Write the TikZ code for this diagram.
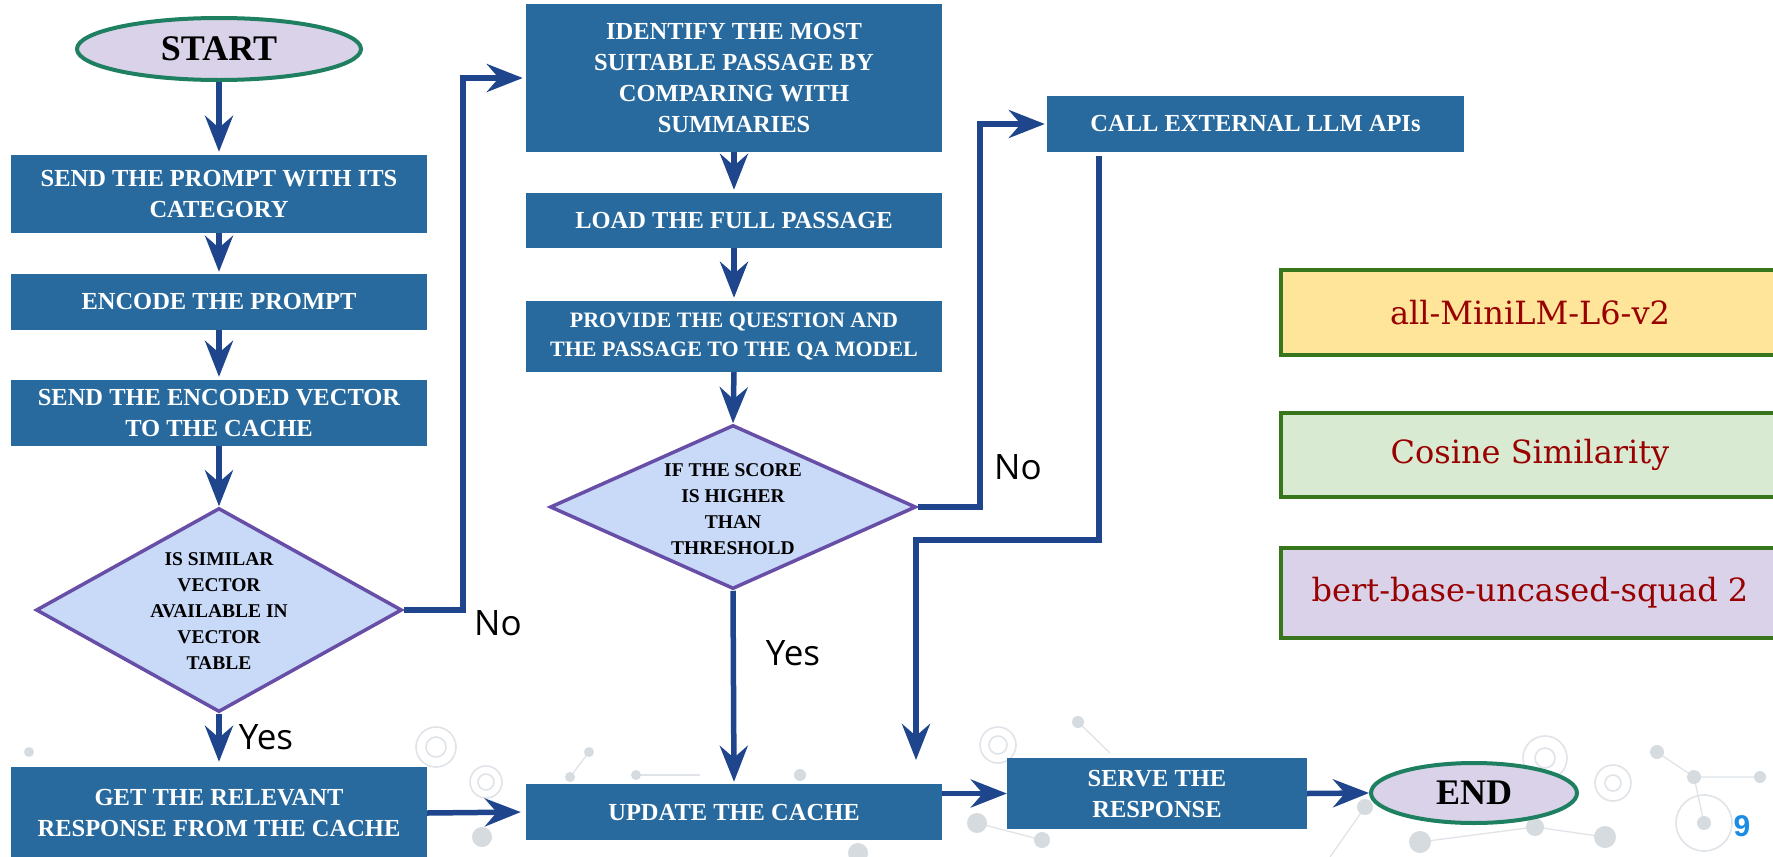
\documentclass[tikz,border=0pt]{standalone}
\usepackage{fontspec}
\setmainfont{Liberation Serif}
\newfontfamily\lblfont{Open Sans}
\newfontfamily\legfont{DejaVu Serif}
\newfontfamily\numfont{Liberation Sans}
\usetikzlibrary{arrows.meta,shapes.geometric,calc}
\definecolor{boxblue}{RGB}{40,106,158}
\definecolor{arrowc}{RGB}{31,70,140}
\definecolor{diafill}{RGB}{201,218,248}
\definecolor{diaedge}{RGB}{103,78,167}
\definecolor{ellfill}{RGB}{217,210,233}
\definecolor{elledge}{RGB}{30,128,96}
\definecolor{legedge}{RGB}{56,118,29}
\definecolor{legtext}{RGB}{153,0,0}
\definecolor{legy}{RGB}{255,229,153}
\definecolor{legg}{RGB}{217,234,211}
\definecolor{legp}{RGB}{217,210,233}
\definecolor{numblue}{RGB}{26,140,230}
\definecolor{deco}{RGB}{224,228,232}
\definecolor{decodark}{RGB}{214,219,224}
\tikzset{
 procbox/.style={draw=none, fill=boxblue, text=white, font=\bfseries\fontsize{24.5}{31}\selectfont, align=center, minimum width=416pt, inner sep=0pt},
 decision/.style={diamond, draw=diaedge, fill=diafill, line width=3.5pt, inner sep=0pt, minimum width=366pt},
 dtext/.style={font=\bfseries\fontsize{19.5}{26}\selectfont, align=center, text=black},
 terminal/.style={ellipse, draw=elledge, fill=ellfill, line width=4pt, inner sep=0pt, font=\bfseries\fontsize{36}{40}\selectfont},
 flow/.style={draw=arrowc, line width=5.5pt, -{Stealth[length=36pt,width=28pt,inset=12pt]}},
 yn/.style={font=\lblfont\fontsize{35}{40}\selectfont},
 legend/.style={draw=legedge, line width=4pt, minimum width=498pt, text=legtext, font=\legfont\fontsize{32}{38}\selectfont},
 decodot/.style={fill=decodark},
 decoring/.style={draw=deco, line width=1.6pt},
 decoline/.style={draw=deco, line width=1.3pt},
}
\begin{document}
\begin{tikzpicture}[x=1pt,y=-1pt]
\useasboundingbox (0,0) rectangle (1773,857);
\fill[white] (0,0) rectangle (1773,857);
% background decoration
\draw[decoline] (589,752) -- (570,777);
\draw[decoline] (1078,722) -- (1110,753);
\draw[decoline] (1657,752) -- (1694,777) -- (1760,777);
\draw[decoline] (1694,777) -- (1704,823);
\draw[decoline] (1420,842) -- (1535,827) -- (1605,837);
\draw[decoline] (977,823) -- (1042,840);
\draw[decoline] (1365,807) -- (1330,857);
\draw[decoline] (636,775) -- (700,775);
\foreach \p/\r in {{(29,752)}/5, {(482,837)}/10, {(589,752)}/5, {(570,777)}/5, {(1078,722)}/6, {(800,775)}/6, {(636,775)}/5, {(977,823)}/10, {(1042,840)}/8, {(858,853)}/10, {(1657,752)}/7, {(1694,777)}/7, {(1760,777)}/6, {(1704,823)}/7, {(1535,827)}/9, {(1605,837)}/11, {(1420,842)}/11, {(1365,807)}/8}
  \fill[decodot] \p circle (\r);
\foreach \p/\r in {{(436,747)}/20, {(436,747)}/10, {(486,782)}/16, {(486,782)}/8, {(998,745)}/18, {(998,745)}/9, {(1545,758)}/22, {(1545,758)}/10, {(1613,783)}/18, {(1613,783)}/8, {(1704,823)}/28}
  \draw[decoring] \p circle (\r);
% nodes
\node[terminal, minimum width=284pt, minimum height=62pt] (start) at (219,49) {START};
\node[procbox, minimum height=78pt] (b1) at (219,194) {SEND THE PROMPT WITH ITS\\CATEGORY};
\node[procbox, minimum height=56pt] (b2) at (219,302) {ENCODE THE PROMPT};
\node[procbox, minimum height=66pt] (b3) at (219,413) {SEND THE ENCODED VECTOR\\TO THE CACHE};
\node[decision, minimum height=204pt] (d1) at (219,610) {};
\node[dtext] (d1t) at (219,611) {IS SIMILAR\\VECTOR\\AVAILABLE IN\\VECTOR\\TABLE};
\node[procbox, minimum height=92pt] (get) at (219,813) {GET THE RELEVANT\\RESPONSE FROM THE CACHE};
\node[procbox, minimum height=148pt] (id) at (734,78) {IDENTIFY THE MOST\\SUITABLE PASSAGE BY\\COMPARING WITH\\SUMMARIES};
\node[procbox, minimum height=55pt] (load) at (734,220.5) {LOAD THE FULL PASSAGE};
\node[procbox, minimum height=71pt, font=\bfseries\fontsize{22}{29}\selectfont] (prov) at (734,336.5) {PROVIDE THE QUESTION AND\\THE PASSAGE TO THE QA MODEL};
\node[decision, minimum height=164pt] (d2) at (733,507) {};
\node[dtext] (d2t) at (733,509) {IF THE SCORE\\IS HIGHER\\THAN\\THRESHOLD};
\node[procbox, minimum height=56pt] (upd) at (734,812) {UPDATE THE CACHE};
\node[procbox, minimum width=417pt, minimum height=56pt] (call) at (1255.5,124) {CALL EXTERNAL LLM APIs};
\node[procbox, minimum width=300pt, minimum height=71pt] (serve) at (1157,793.5) {SERVE THE\\RESPONSE};
\node[terminal, minimum width=206pt, minimum height=60pt] (end) at (1474,793) {END};
% legend
\node[legend, fill=legy, minimum height=85pt] (l1) at (1530,312.5) {all-MiniLM-L6-v2};
\node[legend, fill=legg, minimum height=84pt] (l2) at (1530,455) {Cosine Similarity};
\node[legend, fill=legp, minimum height=90pt] (l3) at (1530,593) {bert-base-uncased-squad 2};
% labels
\node[yn] (no1) at (498,623) {No};
\node[yn] (yes1) at (266,737) {Yes};
\node[yn] (no2) at (1018,467) {No};
\node[yn] (yes2) at (793,653) {Yes};
\node[font=\numfont\bfseries\fontsize{30}{34}\selectfont, text=numblue] (pg) at (1742,826) {9};
% connectors
\draw[flow, shorten >=3pt] (start.south) -- (b1.north);
\draw[flow, shorten >=2pt] (b1.south) -- (b2.north);
\draw[flow, shorten >=3pt] (b2.south) -- (b3.north);
\draw[flow] (b3.south) -- (d1.north);
\draw[flow, shorten >=5pt] (d1.south) -- (get.north);
\draw[flow, shorten >=3pt] (d1.east) -| ([xshift=-63pt]id.west) -- (id.west);
\draw[flow, shorten >=3pt] (id.south) -- (load.north);
\draw[flow, shorten >=3pt] (load.south) -- (prov.north);
\draw[flow] (prov.south) -- (d2.north);
\draw[flow, shorten >=2pt] (d2.south) -- (upd.north);
\draw[flow, shorten >=2pt] (d2.east) -| ([xshift=-67pt]call.west) -- (call.west);
\coordinate (c2a) at ([xshift=52pt,yshift=-4pt]call.south west);
\coordinate (c2b) at (916,540);
\coordinate (c2e) at (916,760);
\draw[flow] (c2a) |- (c2b) -- (c2e);
\draw[flow, shorten >=5pt] (get.east) -- (upd.west);
\draw[flow] (upd.east |- serve.west) -- (serve.west);
\draw[flow] (serve.east) -- (end.west);
\end{tikzpicture}
\end{document}
